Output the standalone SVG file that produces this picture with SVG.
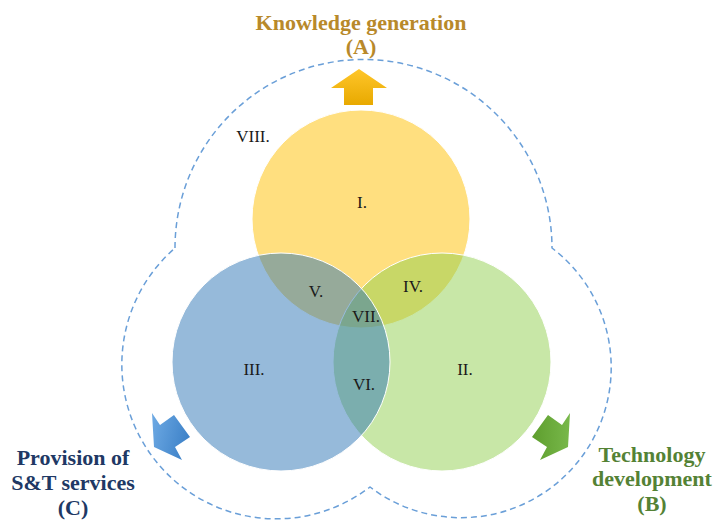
<svg xmlns="http://www.w3.org/2000/svg" width="713" height="525" viewBox="0 0 713 525">
<defs>
<style>
.lbl{font-family:"Liberation Serif","Times New Roman",serif;font-size:17px;fill:#1a1a1a;text-anchor:middle}
.ttl{font-family:"Liberation Serif","Times New Roman",serif;font-size:22px;font-weight:bold;text-anchor:middle}
.circ{stroke:#ffffff;stroke-width:1;fill-opacity:0.5}
</style>
<linearGradient id="gY" x1="0" y1="0" x2="0" y2="1">
<stop offset="0" stop-color="#FFC62A"/><stop offset="1" stop-color="#E8A900"/>
</linearGradient>
<linearGradient id="gB" x1="0" y1="0" x2="1" y2="0.3">
<stop offset="0" stop-color="#6EAAE4"/><stop offset="1" stop-color="#3F83C9"/>
</linearGradient>
<linearGradient id="gG" x1="0" y1="0" x2="1" y2="0">
<stop offset="0" stop-color="#5E9E2E"/><stop offset="1" stop-color="#78B84A"/>
</linearGradient>
</defs>
<rect width="713" height="525" fill="#ffffff"/>

<g id="outline">
<path d="M175 248 A188.5 188.5 0 0 1 552 248 A150.2 150.2 0 0 1 370 487 A154.3 154.3 0 0 1 175 248 Z" fill="none" stroke="#6A9FD8" stroke-width="1.5" stroke-dasharray="6 4"/>
</g>

<g id="circleA"><circle class="circ" cx="361" cy="219" r="109" fill="#FFC000"/></g>
<g id="circleB"><circle class="circ" cx="442" cy="362" r="109" fill="#92D050"/></g>
<g id="circleC"><circle class="circ" cx="281" cy="362" r="109" fill="#2E75B6"/></g>

<g id="arrows">
<polygon id="arrowA" points="359,69 387,88 373,88 373,105 344,105 344,88 331,88" fill="url(#gY)"/>
<polygon id="arrowB" points="548,415 562,425 570,413 568,447 540,460 547,447 532,437" fill="url(#gG)"/>
<polygon id="arrowC" points="174,415 160,425 152,413 154,447 182,460 175,447 190,437" fill="url(#gB)"/>
</g>

<g id="labels">
<text class="lbl" x="253" y="142" font-size="18">VIII.</text>
<text class="lbl" x="362" y="208">I.</text>
<text class="lbl" x="465" y="375">II.</text>
<text class="lbl" x="254" y="375">III.</text>
<text class="lbl" x="413" y="292">IV.</text>
<text class="lbl" x="316" y="297">V.</text>
<text class="lbl" x="364" y="390">VI.</text>
<text class="lbl" x="366" y="322">VII.</text>
</g>

<g id="titleA">
<text class="ttl" x="361" y="30" fill="#B8892A">Knowledge generation</text>
<text class="ttl" x="361" y="54" fill="#B8892A">(A)</text>
</g>
<g id="titleB">
<text class="ttl" x="652" y="462" fill="#548235">Technology</text>
<text class="ttl" x="652" y="486" fill="#548235">development</text>
<text class="ttl" x="652" y="511" fill="#548235">(B)</text>
</g>
<g id="titleC">
<text class="ttl" x="73" y="465" fill="#203864">Provision of</text>
<text class="ttl" x="73" y="490" fill="#203864">S&amp;T services</text>
<text class="ttl" x="73" y="515" fill="#203864">(C)</text>
</g>
</svg>
